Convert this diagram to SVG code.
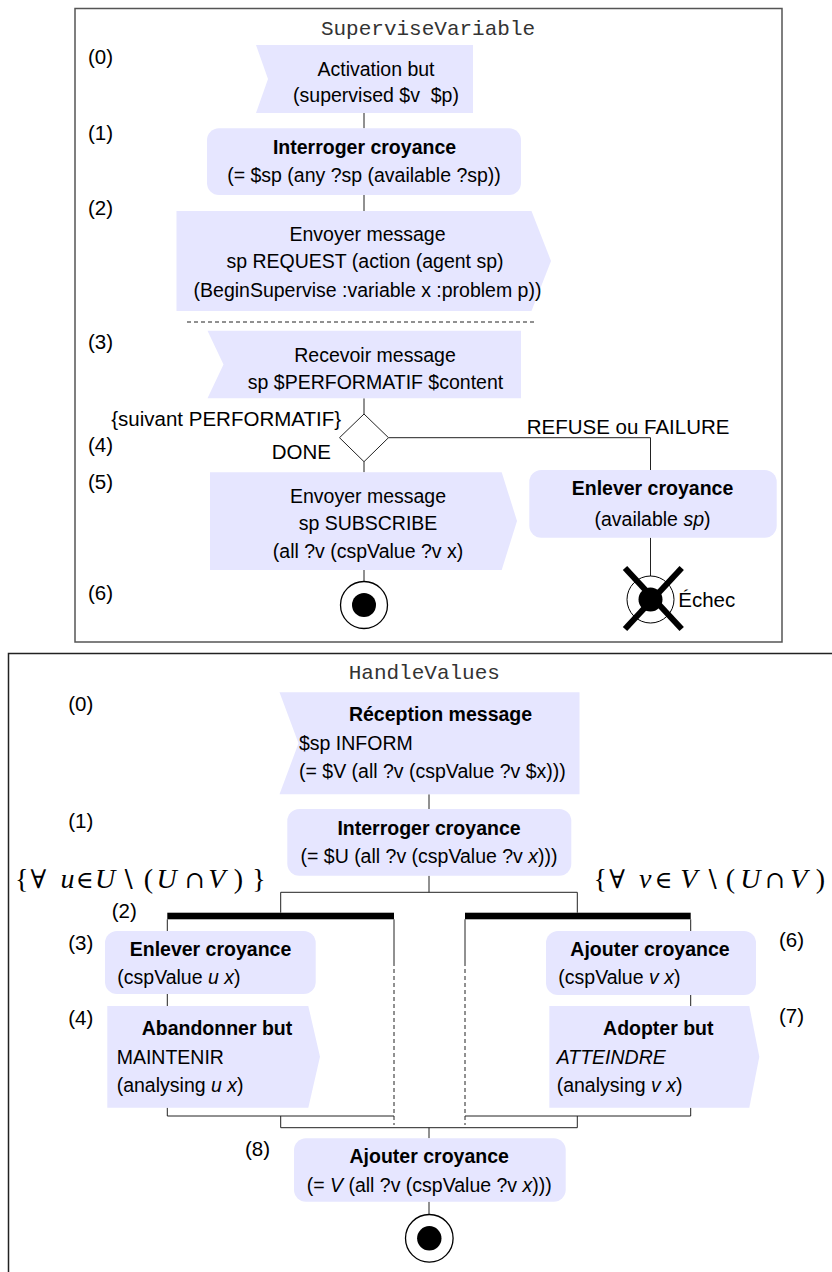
<svg xmlns="http://www.w3.org/2000/svg" width="832" height="1272" viewBox="0 0 832 1272">
<style>
.n{fill:#e6e6ff;stroke:none}
.t{font-family:"Liberation Sans",Arial,sans-serif;font-size:19.5px;fill:#000}
.b{font-weight:bold}
.c{text-anchor:middle}
.e{text-anchor:end}
.i{font-style:italic}
.lbl{font-family:"Liberation Sans",Arial,sans-serif;font-size:20.5px;fill:#000}
.mono{font-family:"Liberation Mono","Courier New",monospace;font-size:21px;fill:#333;text-anchor:middle}
.ln{stroke:#222;stroke-width:1;fill:none}
.dash{stroke-dasharray:4 3}
.math{font-family:"Liberation Serif","DejaVu Serif",serif;font-size:28px;fill:#000;text-anchor:middle}
.op{font-family:"DejaVu Serif","Liberation Serif",serif;font-size:24px;font-style:normal}
.fa{font-family:"DejaVu Serif","Liberation Serif",serif;font-size:26px}
.frame{fill:none;stroke-width:1.5}
</style>
<rect x="0" y="0" width="832" height="1272" fill="#fff"/>

<g id="frame-supervise">
<rect class="frame" x="75" y="8.5" width="707" height="633.5" stroke="#555"/>
<text class="mono" x="428" y="35">SuperviseVariable</text>
<text class="lbl" x="88" y="64">(0)</text>
<text class="lbl" x="88" y="140">(1)</text>
<text class="lbl" x="88" y="215">(2)</text>
<text class="lbl" x="88" y="349">(3)</text>
<text class="lbl" x="88" y="452">(4)</text>
<text class="lbl" x="88" y="489">(5)</text>
<text class="lbl" x="88" y="600">(6)</text>
</g>
<g id="frame-handle">
<rect class="frame" x="8.5" y="653.5" width="840" height="640" stroke="#222"/>
<text class="mono" x="424.3" y="679.3">HandleValues</text>
<text class="lbl" x="68.3" y="711">(0)</text>
<text class="lbl" x="68.3" y="827.7">(1)</text>
<text class="lbl" x="111.7" y="918">(2)</text>
<text class="lbl" x="68.3" y="949.5">(3)</text>
<text class="lbl" x="68.3" y="1024.5">(4)</text>
<text class="lbl" x="779" y="947">(6)</text>
<text class="lbl" x="779" y="1023">(7)</text>
<text class="lbl" x="245" y="1156">(8)</text>
</g>

<g id="connectors">
<line class="ln" x1="364" y1="113" x2="364" y2="128.3"/>
<line class="ln" x1="364" y1="195" x2="364" y2="211"/>
<line class="ln dash" x1="187" y1="322" x2="535" y2="322" stroke="#000"/>
<line class="ln" x1="364" y1="398.3" x2="364" y2="414"/>
<line class="ln" x1="364" y1="461.7" x2="364" y2="472.3"/>
<path class="ln" d="M388.5,437.7 H650.5 V470"/>
<line class="ln" x1="364" y1="570" x2="364" y2="581.5"/>
<line class="ln" x1="650.5" y1="537.7" x2="650.5" y2="576"/>
<text class="lbl e" x="341" y="426">{suivant PERFORMATIF}</text>
<text class="lbl e" x="331" y="459">DONE</text>
<text class="lbl" x="526.7" y="434.3">REFUSE ou FAILURE</text>

<line class="ln" x1="429" y1="794.3" x2="429" y2="809"/>
<line class="ln" x1="429" y1="875.7" x2="429" y2="892.3"/>
<path class="ln" d="M280.7,912.7 V892.3 H577.3 V912.7"/>
<rect x="167.3" y="912.7" width="226.7" height="6.6" fill="#000"/>
<rect x="465" y="912.7" width="225.7" height="6.6" fill="#000"/>
<line class="ln" x1="167.3" y1="919.3" x2="167.3" y2="931"/>
<line class="ln" x1="167.3" y1="994" x2="167.3" y2="1006"/>
<line class="ln" x1="167.3" y1="1107.7" x2="167.3" y2="1116"/>
<line class="ln" x1="394" y1="919.3" x2="394" y2="962"/>
<line class="ln dash" x1="394" y1="962" x2="394" y2="1125"/>
<line class="ln" x1="167.3" y1="1116" x2="394" y2="1116"/>
<line class="ln" x1="690.7" y1="919.3" x2="690.7" y2="931"/>
<line class="ln" x1="690.7" y1="995" x2="690.7" y2="1006"/>
<line class="ln" x1="690.7" y1="1107.7" x2="690.7" y2="1116"/>
<line class="ln" x1="465" y1="919.3" x2="465" y2="962"/>
<line class="ln dash" x1="465" y1="962" x2="465" y2="1125"/>
<line class="ln" x1="465" y1="1116" x2="690.7" y2="1116"/>
<path class="ln" d="M280.7,1116 V1127.7 H577.3 V1116"/>
<line class="ln" x1="429" y1="1127.7" x2="429" y2="1138.3"/>
<line class="ln" x1="429" y1="1201.7" x2="429" y2="1214.5"/>
<text class="math"><tspan x="21.7" y="888">{</tspan><tspan class="fa" x="38.3">∀</tspan><tspan class="i" x="67.5">u</tspan><tspan class="op" x="85">∈</tspan><tspan class="i" x="105">U</tspan><tspan class="op" x="127.5">∖</tspan><tspan x="148.3">(</tspan><tspan class="i" x="166.7">U</tspan><tspan class="op" x="195">∩</tspan><tspan class="i" x="216.7">V</tspan><tspan x="238.3">)</tspan><tspan x="259">}</tspan></text>
<text class="math"><tspan x="600.3" y="888">{</tspan><tspan class="fa" x="617">∀</tspan><tspan class="i" x="645.3">v</tspan><tspan class="op" x="663.7">∈</tspan><tspan class="i" x="688.7">V</tspan><tspan class="op" x="711">∖</tspan><tspan x="730.3">(</tspan><tspan class="i" x="750.3">U</tspan><tspan class="op" x="775.3">∩</tspan><tspan class="i" x="798.7">V</tspan><tspan x="820.3">)</tspan><tspan x="837">}</tspan></text>
</g>

<g id="sv-activation">
<polygon class="n" points="256,45 473,45 473,113 256,113 268,79"/>
<text class="t c" x="376" y="76">Activation but</text>
<text class="t c" x="376" y="102" style="white-space:pre">(supervised $v  $p)</text>
</g>
<g id="sv-interroger">
<rect class="n" x="207" y="128.3" width="314" height="66.7" rx="12"/>
<text class="t b c" x="364.5" y="154">Interroger croyance</text>
<text class="t c" x="364" y="182">(= $sp (any ?sp (available ?sp))</text>
</g>
<g id="sv-envoyer-request">
<polygon class="n" points="176.5,211 531.5,211 551,261 531.5,311 176.5,311"/>
<text class="t c" x="367.5" y="240.5">Envoyer message</text>
<text class="t c" x="365" y="268">sp REQUEST (action (agent sp)</text>
<text class="t c" x="367.5" y="296.5">(BeginSupervise :variable x :problem p))</text>
</g>
<g id="sv-recevoir">
<polygon class="n" points="207.5,330.7 521,330.7 521,398.3 207.5,398.3 223.5,364.5"/>
<text class="t c" x="375" y="361.5">Recevoir message</text>
<text class="t c" x="375.5" y="388.5">sp $PERFORMATIF $content</text>
</g>
<g id="sv-decision">
<polygon points="364,414 388.5,437.7 364,461.7 339.5,437.7" fill="#fff" stroke="#222" stroke-width="1"/>
</g>
<g id="sv-envoyer-subscribe">
<polygon class="n" points="210,472.3 501.7,472.3 517,521 501.7,570 210,570"/>
<text class="t c" x="368" y="502.5">Envoyer message</text>
<text class="t c" x="368" y="530">sp SUBSCRIBE</text>
<text class="t c" x="368" y="557.5">(all ?v (cspValue ?v x)</text>
</g>
<g id="sv-enlever">
<rect class="n" x="529.3" y="470" width="247.4" height="67.7" rx="12"/>
<text class="t b c" x="652.5" y="495">Enlever croyance</text>
<text class="t c" x="652.5" y="525.5">(available <tspan class="i">sp</tspan>)</text>
</g>
<g id="sv-end">
<circle cx="364" cy="605" r="23.5" fill="#fff" stroke="#000" stroke-width="1.3"/>
<circle cx="364" cy="605" r="12" fill="#000"/>
</g>
<g id="sv-echec">
<circle cx="650.5" cy="599.5" r="23.5" fill="#fff" stroke="#000" stroke-width="1"/>
<circle cx="650.5" cy="599.5" r="12" fill="#000"/>
<line x1="625" y1="568" x2="681.7" y2="629" stroke="#000" stroke-width="6"/>
<line x1="681.7" y1="568" x2="625" y2="629" stroke="#000" stroke-width="6"/>
<text class="lbl" x="678.3" y="606.7">Échec</text>
</g>

<g id="hv-reception">
<polygon class="n" points="279.5,692.3 579.5,692.3 579.5,794.3 279.5,794.3 298.5,743.3"/>
<text class="t b c" x="440.5" y="721">Réception message</text>
<text class="t" x="299" y="750">$sp INFORM</text>
<text class="t" x="299" y="777.5">(= $V (all ?v (cspValue ?v $x)))</text>
</g>
<g id="hv-interroger">
<rect class="n" x="287.3" y="809" width="284" height="66.7" rx="12"/>
<text class="t b c" x="429" y="835">Interroger croyance</text>
<text class="t c" x="429" y="862.5">(= $U (all ?v (cspValue ?v <tspan class="i">x</tspan>)))</text>
</g>
<g id="hv-enlever">
<rect class="n" x="105" y="931" width="210.7" height="63" rx="12"/>
<text class="t b c" x="210.5" y="956">Enlever croyance</text>
<text class="t" x="117.3" y="984">(cspValue <tspan class="i">u x</tspan>)</text>
</g>
<g id="hv-abandonner">
<polygon class="n" points="107.3,1006 308.3,1006 320,1056.8 308.3,1107.7 107.3,1107.7"/>
<text class="t b c" x="217" y="1035">Abandonner but</text>
<text class="t" x="116.7" y="1064">MAINTENIR</text>
<text class="t" x="116.7" y="1091.7">(analysing <tspan class="i">u x</tspan>)</text>
</g>
<g id="hv-ajouter-v">
<rect class="n" x="546" y="931" width="210" height="64" rx="12"/>
<text class="t b c" x="650" y="956">Ajouter croyance</text>
<text class="t" x="558.3" y="984">(cspValue <tspan class="i">v x</tspan>)</text>
</g>
<g id="hv-adopter">
<polygon class="n" points="549.3,1006 749.3,1006 759.3,1056.8 749.3,1107.7 549.3,1107.7"/>
<text class="t b c" x="658.3" y="1035">Adopter but</text>
<text class="t i" x="556.7" y="1064">ATTEINDRE</text>
<text class="t" x="556.7" y="1091.7">(analysing <tspan class="i">v x</tspan>)</text>
</g>
<g id="hv-ajouter-final">
<rect class="n" x="294" y="1138.3" width="271.7" height="63.4" rx="12"/>
<text class="t b c" x="429.2" y="1163.3">Ajouter croyance</text>
<text class="t c" x="429.2" y="1191.7">(= <tspan class="i">V</tspan> (all ?v (cspValue ?v <tspan class="i">x</tspan>)))</text>
</g>
<g id="hv-end">
<circle cx="429.3" cy="1238.3" r="23.8" fill="#fff" stroke="#000" stroke-width="1.3"/>
<circle cx="429.3" cy="1238.3" r="12.2" fill="#000"/>
</g>
</svg>
